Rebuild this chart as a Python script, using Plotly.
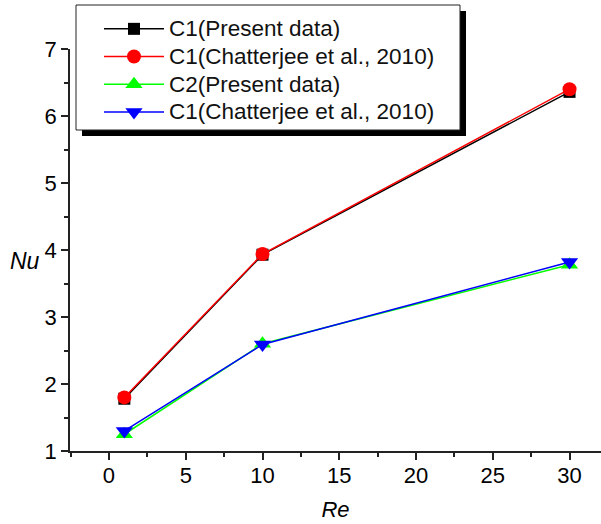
import plotly.graph_objects as go

re_vals = [1, 10, 30]
c1_present = [1.78, 3.93, 6.36]
c1_chat = [1.80, 3.94, 6.40]
c2_present = [1.25, 2.60, 3.78]
c2_chat = [1.30, 2.59, 3.82]

names = ["C1(Present data)", "C1(Chatterjee et al., 2010)",
         "C2(Present data)", "C1(Chatterjee et al., 2010)"]

FONT = "Arial, Liberation Sans, sans-serif"

fig = go.Figure()
styles = [
    (c1_present, "black", "square", 12),
    (c1_chat, "red", "circle", 14),
    (c2_present, "#00ff00", "triangle-up", 15),
    (c2_chat, "blue", "triangle-down", 15),
]
for (ys, col, sym, sz), nm in zip(styles, names):
    fig.add_trace(go.Scatter(
        x=re_vals, y=ys, mode="lines+markers",
        name='<span style="font-size:22.5px">' + nm + '</span>',
        line=dict(color=col, width=1.5),
        marker=dict(color=col, symbol=sym, size=sz, line=dict(width=0)),
        cliponaxis=False,
    ))

W, H = 601, 524
L, R, T, B = 70, 0, 49, 73
pw, ph = W - L - R, H - T - B

def px(x):
    return (x - L) / pw

def py(y):
    return (H - B - y) / ph

# legend box + shadow
fig.add_shape(type="rect", xref="paper", yref="paper",
              x0=px(82), x1=px(466), y0=py(136), y1=py(11),
              fillcolor="black", line=dict(width=0), layer="above")
fig.add_shape(type="rect", xref="paper", yref="paper",
              x0=px(76), x1=px(460), y0=py(130), y1=py(5),
              fillcolor="white", line=dict(color="#222", width=1), layer="above")

# y-axis title (horizontal, as in the reference)
fig.add_annotation(text="<i>Nu</i>", xref="paper", yref="paper",
                   x=px(25), y=py(261), xanchor="center", yanchor="middle",
                   showarrow=False, font=dict(family=FONT, size=23, color="black"))

axis_common = dict(
    showgrid=False, zeroline=False, showline=True, linecolor="#222", linewidth=1.5,
    ticks="outside", ticklen=7, tickwidth=1.5, tickcolor="#222",
    tickfont=dict(family=FONT, size=22, color="black"),
    minor=dict(ticks="outside", ticklen=4, tickwidth=1.5, tickcolor="#222"),
    mirror=False,
)

fig.update_xaxes(range=[-2.54, 32.05], dtick=5, tick0=0, ticklabelstandoff=-3,
                 title=dict(text="<i>Re</i>", font=dict(family=FONT, size=22, color="black"), standoff=14),
                 **axis_common)
fig.update_xaxes(minor_dtick=2.5)
fig.update_yaxes(range=[1, 7], dtick=1, tick0=1, **axis_common)
fig.update_yaxes(minor_dtick=0.5)

fig.update_layout(
    width=W, height=H,
    margin=dict(l=L, r=R, t=T, b=B, pad=0),
    plot_bgcolor="white", paper_bgcolor="white",
    font=dict(family=FONT, size=22, color="black"),
    showlegend=True,
    legend=dict(x=px(99), y=py(10), xanchor="left", yanchor="top",
                bgcolor="rgba(0,0,0,0)", borderwidth=0,
                font=dict(family=FONT, size=19, color="#111"),
                itemwidth=60, tracegroupgap=0),
)

fig.write_html("out.html", config={"displayModeBar": False},
               post_script="document.body.style.margin='0';document.body.style.overflow='hidden';")
